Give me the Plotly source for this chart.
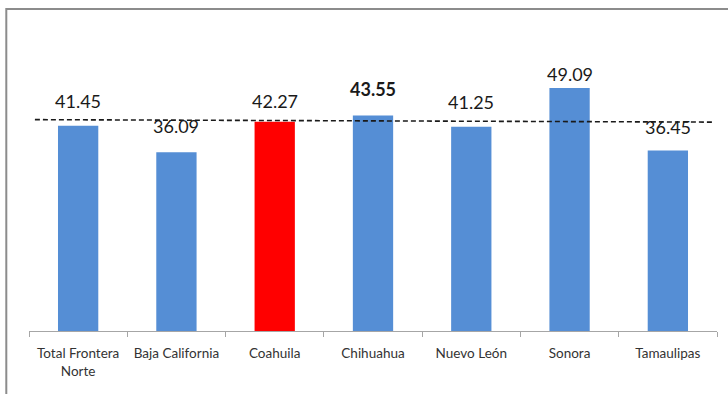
import plotly.graph_objects as go

categories = ["Total Frontera<br>Norte", "Baja California", "Coahuila", "Chihuahua",
              "Nuevo León", "Sonora", "Tamaulipas"]
values = [41.45, 36.09, 42.27, 43.55, 41.25, 49.09, 36.45]
value_labels = ["41.45", "36.09", "42.27", "43.55", "41.25", "49.09", "36.45"]
ref_line = [42.7, 42.2]  # dashed reference line, left and right ends

bar_colors = ["#558ED5", "#558ED5", "#FF0000", "#558ED5", "#558ED5", "#558ED5", "#558ED5"]
label_bold = [False, False, False, True, False, False, False]
label_shift = [25, 26, 21, 26, 25, 14, 24]

FONT = "Lato"

fig = go.Figure()
fig.add_trace(go.Bar(
    x=categories, y=values, width=0.41,
    marker=dict(color=bar_colors, line=dict(width=0)),
    hoverinfo="skip", showlegend=False,
))

for c, v, t, b, s in zip(categories, values, value_labels, label_bold, label_shift):
    fig.add_annotation(
        x=c, y=v, xref="x", yref="y", text=f"<b>{t}</b>" if b else t,
        showarrow=False, yshift=s, yanchor="middle",
        font=dict(family=FONT, size=18, color="#1a1a1a"),
    )

fig.add_shape(type="line", xref="x", yref="y",
              x0=-0.44, x1=6.47, y0=ref_line[0], y1=ref_line[1],
              line=dict(color="#1a1a1a", width=1.6, dash="5px,3px"))

# outer frame (top and left edges visible)
fig.add_shape(type="rect", xref="paper", yref="paper",
              x0=-0.033, x1=1.05, y0=-0.3, y1=1.035,
              line=dict(color="#8c8c8c", width=2), layer="below")

fig.update_layout(
    width=728, height=394,
    margin=dict(l=29, r=11, t=20, b=63),
    plot_bgcolor="white", paper_bgcolor="white",
    bargap=0.59,
    xaxis=dict(
        type="category", showline=True, linecolor="#a6a6a6", linewidth=1,
        ticks="outside", tickson="boundaries", ticklen=5, tickcolor="#a6a6a6",
        ticklabelstandoff=10,
        tickfont=dict(family=FONT, size=13.5, color="#333333"),
        showgrid=False, zeroline=False,
    ),
    yaxis=dict(
        range=[0, 62.83], visible=False, showgrid=False, zeroline=False,
    ),
)

fig.write_html("out.html")
